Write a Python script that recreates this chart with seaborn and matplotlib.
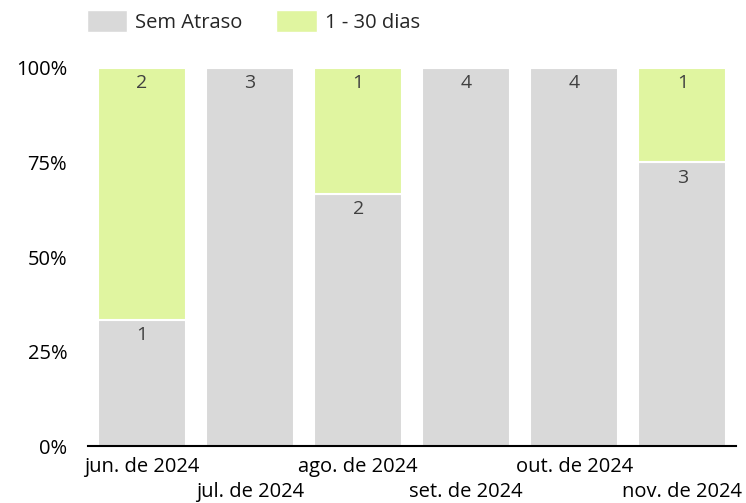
import matplotlib
matplotlib.use("Agg")
import matplotlib.pyplot as plt
import numpy as np
import pandas as pd
import seaborn as sns
from matplotlib.patches import Patch
from matplotlib.ticker import PercentFormatter

meses = ["jun. de 2024", "jul. de 2024", "ago. de 2024",
         "set. de 2024", "out. de 2024", "nov. de 2024"]
sem_atraso = [1, 3, 2, 4, 4, 3]
ate_30 = [2, 0, 1, 0, 0, 1]

cor_sem = "#d9d9d9"
cor_30 = "#e0f5a0"
cor_texto = "#404040"
fs = 14.5

sns.set_style("white")
plt.rcParams['font.family'] = ['Open Sans', 'DejaVu Sans']

total = np.array(sem_atraso) + np.array(ate_30)
df = pd.DataFrame({
    "mes": meses,
    "sem": np.array(sem_atraso) / total * 100,
    "d30": np.array(ate_30) / total * 100,
})

fig = plt.figure(figsize=(7.46, 5.03), dpi=100)
ax = fig.add_axes([0.118, 0.113, 0.869, 0.752])

sns.barplot(data=df, x="mes", y="sem", color=cor_sem, width=0.815, saturation=1,
            edgecolor="white", linewidth=1.5, ax=ax)
sns.barplot(data=df, x="mes", y="d30", color=cor_30, width=0.815, saturation=1,
            bottom=df["sem"], edgecolor="white", linewidth=1.5, ax=ax)

# rótulos no topo de cada segmento
for i in range(len(meses)):
    if sem_atraso[i] > 0:
        ax.text(i, df["sem"][i] - 1.6, str(sem_atraso[i]), ha="center", va="top",
                fontsize=fs - 0.5, color=cor_texto)
    if ate_30[i] > 0:
        ax.text(i, 100 - 1.6, str(ate_30[i]), ha="center", va="top",
                fontsize=fs - 0.5, color=cor_texto)

ax.set_ylim(0, 100)
ax.set_xlim(-0.5, 5.5)
ax.set_yticks([0, 25, 50, 75, 100])
ax.yaxis.set_major_formatter(PercentFormatter(decimals=0))
ax.set_xticks(range(len(meses)))
ax.set_xticklabels([m if i % 2 == 0 else "\n" + m for i, m in enumerate(meses)],
                   linespacing=1.3)
ax.tick_params(axis="both", length=0, labelsize=fs, colors="black")
ax.tick_params(axis="y", pad=15)
ax.tick_params(axis="x", pad=8)
ax.set_xlabel("")
ax.set_ylabel("")

for s in ["top", "right", "left"]:
    ax.spines[s].set_visible(False)
ax.spines["bottom"].set_color("black")
ax.spines["bottom"].set_linewidth(1.5)

handles = [Patch(facecolor=cor_sem, label="Sem Atraso"),
           Patch(facecolor=cor_30, label="1 - 30 dias")]
fig.legend(handles=handles, loc="center left", bbox_to_anchor=(0.116, 0.957),
           ncol=2, frameon=False, fontsize=fs, handlelength=2.0, handleheight=1.3,
           columnspacing=1.7, handletextpad=0.4, borderpad=0, borderaxespad=0)

fig.savefig("out.png", dpi=100)
